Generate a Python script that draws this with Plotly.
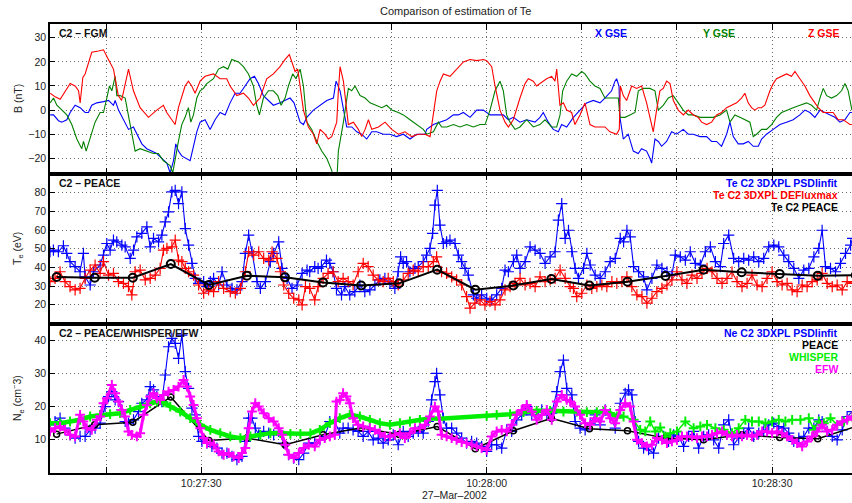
import pandas as pd
import plotly.graph_objects as go
from plotly.subplots import make_subplots

T0 = pd.Timestamp("2002-03-27 10:27:00")

# ---------------- axis ticks / labels ----------------
tick_sec = [20, 30, 40, 50, 60, 70, 80, 90]
tick_lab = ["", "10:27:30", "", "", "10:28:00", "", "", "10:28:30"]
x_range_sec = [14.1, 98.4]

# ---------------- Panel 1: FGM magnetic field (nT), seconds after 10:27:00 ----------------
bx_t = [14.12,14.47,14.99,15.34,15.87,16.22,16.74,17.27,17.79,18.14,18.49,19.02,19.72,20.25,20.77,20.95,21.3,21.82,22.35,22.87,
        23.22,23.75,24.27,24.8,25.32,25.85,26.38,26.73,27.08,27.32,27.6,27.95,28.48,28.83,29.18,29.53,29.88,30.4,30.93,31.45,
        31.98,32.51,33.03,33.56,34.08,34.61,35.13,35.59,36.01,36.53,37.06,37.58,38.28,38.81,39.33,39.75,40.03,40.39,40.74,41.09,
        41.79,42.49,43.19,43.89,44.17,44.59,44.94,45.29,45.82,46.34,46.86,47.39,47.92,48.44,49.14,49.84,50.54,51.24,51.94,52.64,53.52,
        53.7,54.4,55.1,55.8,56.5,57.02,57.55,58.25,58.95,59.65,60.35,61.05,61.75,62.28,62.8,63.5,64.2,65.08,65.6,65.95,
        66.48,67.0,67.53,67.88,68.41,69.11,69.81,70.51,71.21,71.91,72.43,73.13,73.49,73.66,73.91,74.01,74.36,74.88,75.41,75.93,
        76.28,76.81,77.16,77.34,77.69,78.04,78.39,78.91,79.44,79.96,80.66,81.19,81.72,82.42,83.12,83.64,84.17,84.69,85.22,85.57,
        85.92,86.44,86.97,87.5,88.02,88.55,88.9,89.42,90.12,90.82,91.52,92.22,92.92,93.45,93.97,94.5,95.03,95.55,96.07,96.6,
        97.13,97.65,98.18,98.39]
bx_v = [-2,-2,-4.4,-5,-4,-1,2,1,-1,-1,2,3,3.5,4,2,4,0,-4,-8,-7,
        -10,-14,-16,-17,-18,-20,-22,-26,-21,-14,-17,-19,-20,-21,-15,-9,-5,-4,-8,-4,
        -1,-2,3,7,7,10,13,14,11,6,4,2,3,4,5,3,-1,-5,-6,-3,
        0,2,4,5,12,8,0,-7,-7,-9,-10,-12,-9,-9,-10,-10,-11,-10,-12,-10,-10,
        -8,-6,-5,-4,-2,-2,-1,-3,0,0,-2,-2,-2,-4,-3,-5,-4,-5,-3,-1,
        -5,-8,-9,-6,-7,-3,0,3,4,3,5,8,12,13,10,-3,-12,-10,-17,-18,
        -16,-17,-20,-22,-12,-13,-15,-13,-9,-10,-8,-10,-10,-11,-11,-13,-13,-15,-10,-5,
        -11,-14,-14,-13,-15,-15,-12,-10,-8,-6,-5,-4,-2,0,-1,-3,0,-1,-2,-3,
        -5,-4,-1,-1]

by_t = [14.12,14.47,14.82,15.34,15.87,16.39,16.92,17.44,17.62,17.9,18.32,18.84,19.37,19.72,20.07,20.35,20.6,20.95,21.12,21.47,
        22.0,22.35,22.7,23.05,23.57,24.27,24.97,25.5,26.02,26.37,26.72,27.0,27.25,27.6,27.95,28.3,28.65,28.9,29.18,29.53,
        29.88,30.23,30.58,31.28,31.81,32.33,32.79,33.21,33.91,34.43,34.96,35.48,35.83,36.11,36.53,37.06,37.58,38.04,38.39,38.81,
        39.16,39.61,39.96,40.39,40.74,41.09,41.61,42.14,42.66,43.19,43.71,44.06,44.24,44.41,44.94,45.29,45.46,45.81,46.16,46.69,
        47.22,47.74,48.44,48.97,49.49,50.02,50.72,51.24,51.94,52.64,53.34,
        53.7,54.4,54.92,55.27,55.8,56.5,57.2,57.9,58.6,59.3,59.83,60.35,60.88,61.4,61.75,62.1,62.45,62.98,63.5,64.2,
        64.9,65.6,66.13,66.83,67.36,67.71,67.99,68.41,68.93,69.46,69.98,70.33,70.86,71.38,71.91,72.43,72.96,73.49,73.84,74.01,
        74.54,75.06,75.59,75.94,76.46,77.16,77.69,78.04,78.56,79.09,79.61,80.14,80.66,81.19,81.71,82.42,83.12,83.82,84.52,85.22,
        85.57,86.09,86.62,87.15,87.67,88.02,88.37,88.9,89.42,89.95,90.47,91.0,91.52,92.22,92.92,93.62,94.15,94.68,95.03,95.38,
        95.73,96.25,96.78,97.3,97.66,98.0,98.39]
by_v = [3,5,2,0,-2,-6,-12,-16,-13,-17,-12,-5,-1,-1,5,10,8,14,6,6,
        5,-2,-9,-17,-16,-17,-18,-18,-21,-22,-23,-26,-20,-13,-6,-3,1,-5,-2,5,
        8,9,11,13,17,18,17,21,20,18,15,10,2,-2,5,8,8,6,2,5,
        10,15,13,17,10,-5,-8,-13,-17,-20,-25,-32,-30,-17,-5,5,9,8,10,6,
        5,3,2,1,2,0,-1,-2,-4,-6,-8,
        -10,-9,-5,-7,-7,-6,-7,-6,-7,-6,-6,0,8,12,8,-2,-5,-8,-7,-4,
        -7,-6,-4,-7,-7,-2,8,12,15,14,16,15,12,10,9,5,5,5,5,-3,
        -3,-2,-1,8,9,9,8,0,2,5,6,3,0,-2,-2,-3,-3,-3,-2,0,
        -5,-2,-3,-4,-5,-11,-10,-8,-8,-6,-3,-1,0,1,2,3,2,0,5,9,
        6,5,6,8,11,8,0]

bz_t = [14.12,14.64,15.17,15.87,16.22,16.74,17.1,17.27,17.55,17.79,18.49,19.2,19.72,20.24,20.77,21.28,21.63,22.35,22.87,23.57,
        24.45,25.32,26.02,26.37,26.73,27.25,27.6,28.3,28.65,29.0,29.35,29.88,30.4,31.28,31.98,32.68,33.03,33.73,34.43,34.96,
        35.48,36.18,36.88,37.58,38.28,38.81,39.26,39.61,39.86,40.14,40.39,40.74,41.26,41.79,42.14,42.49,43.01,43.36,43.71,44.24,
        44.41,44.59,44.94,45.29,45.46,45.99,46.51,46.86,47.22,47.57,47.92,48.62,49.32,50.02,50.72,51.42,52.12,52.82,
        53.52,54.05,54.4,54.75,55.1,55.45,56.15,56.85,57.55,58.25,58.95,59.65,60.0,60.53,60.88,61.4,61.93,62.28,62.8,63.5,
        64.03,64.38,64.9,65.25,65.78,66.3,66.83,67.18,67.36,67.53,67.7,68.06,68.41,68.93,69.28,69.81,70.33,70.86,71.38,71.91,
        72.43,72.96,73.66,73.94,74.05,74.36,74.71,75.24,75.76,76.29,76.81,77.16,77.51,77.86,78.21,78.56,78.91,79.27,79.62,80.14,
        80.67,81.19,81.72,82.24,82.59,83.12,83.64,84.17,84.69,85.22,85.74,86.27,86.79,87.14,87.49,87.84,88.2,88.54,88.89,89.24,
        89.77,90.12,90.47,90.99,91.52,92.04,92.4,92.92,93.45,93.97,94.5,94.85,95.37,95.9,96.42,96.95,97.48,97.83,98.18,98.39]
bz_v = [7,5.5,4.5,9,11,10,8,3,13.5,15,24,24.5,25,21,17,6,4,17,8,1,
        -3,0,2,-1,-3,-6,1,10,12,10,7,12,14,15,13,13,10,6,7,5,
        2,5,13,15,18,21,23,19,16,17,10,0,-7,-10,-14,-8,-10,-12,-11,-5,
        8,18,12,0,-6,-5,-8,-11,-8,-4,-8,-7,-5,-8,-10,-9,-11,-10,
        -10,-11,-2,8,12,15,14,17,20,21,20.5,21,20.5,18,10,0,-5,-7,-4,5,
        11,13,12,10,11.5,13,14,12,17,10,2,3,0,-1,-6,-2,3,-6,-7,-7,
        -7,-9,-10,-8,10,6,4,10,9,10,3,-3,-9,0,8,9,12,11,4,0,
        -2,0,-2,-3,-5,-6,-5,-2,-1,1,2,3,5,7,3,1,0,1,1,2,
        8,11,13,14,15,14,16,13,10,6,3,1,-1,-1,-1,-4,-4,-5,-6,-6]

# ---------------- Panel 2: electron temperature (eV) ----------------
te_fit_t = [14.1,14.46,14.98,15.51,15.86,16.21,16.74,17.26,17.61,17.79,18.32,18.67,19.37,19.72,20.07,20.42,20.77,21.12,21.65,22.0,
            22.53,22.88,23.23,23.75,24.28,24.63,24.98,25.51,25.86,26.21,26.56,26.91,27.26,27.61,27.96,28.32,28.67,29.02,29.37,29.72,
            30.25,30.6,30.95,31.3,31.82,32.18,32.7,33.23,33.75,34.28,34.63,34.98,35.33,35.86,36.21,36.74,37.26,37.61,38.14,38.49,
            39.02,39.54,40.07,40.6,41.12,
            41.4,41.93,42.28,42.63,43.16,43.51,43.86,44.21,44.74,45.09,45.61,46.14,46.67,47.19,47.72,48.25,48.77,49.3,49.83,50.35,
            50.7,50.95,51.23,51.58,51.93,52.46,52.81,53.33,53.68,54.04,54.32,54.56,54.81,55.09,55.44,55.79,56.14,56.67,57.02,57.37,
            57.72,58.07,58.6,58.95,59.47,60.0,60.53,61.05,61.58,61.93,62.28,62.81,63.16,63.51,64.04,64.56,65.09,65.61,66.14,66.67,
            67.19,67.54,67.89,68.25,68.6,68.95,69.3,
            69.65,70.18,70.53,70.88,71.4,71.93,72.46,72.98,73.51,74.04,74.39,74.74,75.09,75.44,75.97,76.49,76.84,77.37,77.89,78.42,
            78.95,79.47,79.82,80.35,80.88,81.4,81.93,82.46,82.98,83.51,84.04,84.56,84.91,85.44,85.96,86.49,87.02,87.54,88.07,88.6,
            89.12,89.65,90.18,90.7,91.23,91.75,92.28,92.81,93.33,93.86,94.39,94.91,95.26,95.61,96.14,96.67,97.19,97.72,98.25,98.46]
te_fit_v = [48.4,49.3,48.4,51.6,47.5,43.1,40.4,37.7,47.5,35,30.6,37.7,41.3,46.6,52.8,49.3,54.6,53.7,51.9,51,
            44.8,49.3,56.4,58.2,61.7,51,55.5,53.7,57.3,64.4,69.7,80.4,81.2,74.1,80.4,60.8,51.9,42.2,34.2,31.5,
            32.4,29.7,32.4,34.2,30.6,37.7,30.6,28.8,28,32.4,47.5,57.3,48.4,32.4,28.8,32.4,43.1,47.5,53.7,39.5,
            34.2,28.8,30.6,36.8,38.6,
            37.7,40.4,39.5,40.4,43.9,42.2,37.7,28.8,25.3,29.7,25.3,27.1,30.6,27.1,28,30.6,33.3,34.2,31.5,28.8,
            37.7,45.7,42.2,43.1,37.7,39.5,40.4,43.1,46.6,50.2,58.2,73.3,81.2,62.6,52.8,53.7,54.6,52.8,46.6,43.1,
            39.5,35.9,25.3,23.5,25.3,23.5,22.6,25.3,28.8,38.6,37.7,43.1,46.6,39.5,43.1,51,49.3,47.5,42.2,45.7,
            48.4,65.3,74.1,55.5,59.9,48.4,39.5,
            34.2,39.5,47.5,41.3,35.9,34.2,37.7,43.1,44.8,55.5,53.7,59.9,56.4,40.4,37.7,35,28,34.2,41.3,39.5,
            37.7,35.9,46.6,45.7,43.9,48.4,42.2,41.3,48.4,51,43.1,40.4,52.8,57.3,44.8,43.1,44.8,43.9,45.7,43.1,
            44.8,51,51.9,51,46.6,43.1,39.5,34.2,38.6,39.5,45.7,50.2,59.9,40.4,39.5,37.7,42.2,47.5,51.9,55.5]

te_def_t = [14.1,14.63,15.16,15.68,16.21,16.74,17.26,17.79,18.32,18.84,19.37,19.72,20.25,20.77,21.3,21.82,22.35,22.7,23.05,23.58,
            24.11,24.63,25.16,25.68,26.03,26.39,26.91,27.26,27.61,27.96,28.32,28.67,29.19,29.72,30.25,30.77,31.3,31.82,32.35,33.05,
            33.58,34.11,34.63,34.98,35.51,36.04,36.56,37.09,37.44,37.96,38.32,38.67,39.19,39.72,40.25,40.6,40.95,
            41.4,41.93,42.28,42.81,43.33,43.86,44.39,44.91,45.44,45.96,46.49,47.02,47.54,48.07,48.6,49.12,49.65,50.18,50.7,51.23,
            51.75,52.28,52.81,53.33,53.86,54.39,54.74,55.26,55.79,56.32,56.84,57.37,57.89,58.25,58.77,59.3,59.82,60.35,60.88,61.4,
            61.93,62.46,62.98,63.51,64.04,64.56,65.09,65.61,66.14,66.67,67.19,67.72,68.25,68.77,
            69.12,69.47,70.0,70.53,71.05,71.58,72.11,72.63,73.16,73.68,74.21,74.74,75.26,75.79,76.32,76.84,77.37,77.89,78.42,78.95,
            79.47,80.0,80.53,81.05,81.58,82.11,82.63,83.16,83.68,84.21,84.74,85.26,85.79,86.32,86.84,87.37,87.89,88.42,88.95,89.47,
            90.0,90.53,91.05,91.58,92.11,92.63,93.16,93.68,94.21,94.74,95.26,95.79,96.32,96.84,97.37,97.89,98.46]
te_def_v = [32.4,34.2,37.7,32.4,29.7,28,28.8,34.2,38.6,41.3,36.8,43.1,35.9,36.8,32.4,31.5,29.7,25.3,37.7,38.6,
            33.3,34.2,35.9,39.5,49.3,50.2,51,54.6,43.9,43.1,39.5,37.7,35.9,30.6,26.2,28,27.1,32.4,28.8,27.1,
            26.2,28.8,37.7,48.4,46.6,48.4,44.8,43.9,48.4,44.8,37.7,30.6,26.2,23.5,22.6,20,29.7,
            28.8,22.6,29.7,34.2,36.8,37.7,32.4,34.2,32.4,30.6,37.7,42.2,40.4,35.9,33.3,32.4,34.2,32.4,30.6,33.3,
            36.8,38.6,37.7,40.4,40.4,43.1,45.7,37.7,36.8,35,33.3,30.6,24.4,18.2,20.9,22.6,20,21.8,20,22.6,
            28,29.7,31.5,34.2,30.6,31.5,29.7,35,32.4,33.3,34.2,38.6,34.2,29.7,
            28.8,24.4,26.2,30.6,28.8,29.7,30.6,29.7,32.4,31.5,32.4,35,29.7,25.3,24.4,20.9,23.5,27.1,28.8,30.6,
            33.3,37.7,33.3,31.5,35.9,34.2,36.8,39.5,37.7,34.2,31.5,34.2,37.7,32.4,29.7,31.5,35.9,30.6,29.7,34.2,
            37.7,32.4,30.6,31.5,28,27.1,30.6,29.7,32.4,33.3,36.8,31.5,29.7,30.6,28,32.4,31.5]

peace_t = [14.8,18.8,22.8,26.8,30.8,34.8,38.8,42.8,46.8,50.8,54.8,58.8,62.8,66.8,70.8,74.8,78.8,82.8,86.8,90.8,94.8,98.8]
te_peace_v = [34.9,34.5,34.5,41.8,30.6,35.6,34.7,32.0,30.3,31.5,38.8,28.1,30.3,33.8,30.3,32.4,35.4,38.8,37.4,36.5,35.6,35.8]

# ---------------- Panel 3: electron density (cm^-3) ----------------
ne_fit_t = [14.1,14.63,15.16,15.68,16.21,16.74,17.26,17.79,18.32,18.84,19.37,19.89,20.25,20.6,20.95,21.3,21.65,22.0,22.35,22.88,
            23.4,23.75,24.28,24.63,24.98,25.33,25.86,26.21,26.56,26.91,27.26,27.61,27.96,28.32,28.67,29.02,29.37,29.72,30.07,30.6,
            31.12,31.65,32.18,32.7,33.23,33.75,34.28,34.63,34.98,35.33,35.68,36.04,36.56,37.09,37.61,38.14,38.67,39.19,39.72,40.25,
            40.77,41.3,
            41.93,42.46,42.98,43.51,44.04,44.56,44.91,45.44,45.96,46.49,47.02,47.54,48.07,48.6,49.12,49.65,50.18,50.7,51.23,51.75,
            52.28,52.81,53.33,53.86,54.21,54.56,54.74,55.09,55.44,55.79,56.32,56.84,57.37,57.89,58.42,58.95,59.47,60.0,60.53,61.05,
            61.58,62.11,62.63,63.16,63.68,64.21,64.74,65.26,65.79,66.32,66.84,67.37,67.72,68.07,68.42,68.95,
            69.3,69.82,70.35,70.88,71.4,71.93,72.46,72.98,73.51,74.04,74.56,74.91,75.26,75.61,75.97,76.49,77.02,77.54,78.07,78.6,
            79.12,79.65,80.18,80.7,81.23,81.75,82.28,82.81,83.33,83.86,84.39,84.91,85.44,85.96,86.49,87.02,87.54,88.07,88.6,89.12,
            89.65,90.18,90.7,91.23,91.75,92.28,92.81,93.33,93.86,94.39,94.91,95.26,95.79,96.32,96.84,97.37,97.89,98.46]
ne_fit_v = [14.5,15.5,16.5,13.5,11.5,10.5,11,11,13,13.5,15,20,23,24.5,22,21.5,19,15.5,15,16,
            18.5,21,22,26,25,23,21.5,29.5,38,40.5,39,34.5,41.5,30.5,25.5,19.5,17.5,11,9.5,9,
            8,7.5,6,6,5,4,5,9.5,16.5,16.5,13.5,11.5,12.5,12,11.5,12.5,9,5.5,4.5,4,
            6,9,
            9,10,11,15.5,15.5,12,13.5,13.5,13,12.5,11,12.5,10,10.5,9,10,11.5,8.5,12.5,11,
            12,12.5,12,15.5,22,27.5,30,23.5,16.5,13.5,13.5,12,10.5,9,9.5,9,8,6.5,8.5,8.5,
            7.5,13,12.5,16,17.5,20,17.5,17.5,19,17.5,18,24.5,30.5,34,25.5,23.5,
            15.5,13.5,13,15,17.5,14.5,19,17.5,13.5,21,24,25,23.5,15.5,9.5,7.5,7,6,10.5,11,
            9.5,11.5,11,8,11,12.5,7.5,11,11.5,10,7.5,14.5,16,8.5,10.5,12,13.5,11,12,12.5,
            14.5,15,14,13.5,12,9.5,10.5,11,13.5,13.5,16,15.5,12.5,11,10,13,17,18.5]

ne_peace_v = [11.7,14.5,15.3,22.9,9.8,10.5,8.5,11.5,13.6,11.6,14.0,7.3,12.7,16.5,13.3,12.7,10.5,10.0,11.5,10.7,10.3,14.0]

whisper_t = [14.1,15.16,16.21,17.26,18.32,19.37,20.42,21.47,22.53,23.58,24.63,25.33,26.03,26.74,27.79,28.84,29.89,30.95,32.0,33.05,
             34.11,35.16,36.21,37.26,38.32,39.37,40.42,41.47,42.46,43.51,44.56,45.61,46.67,47.72,48.77,49.83,50.88,51.93,52.98,54.04,
             55.09,60.0,61.05,62.46,63.86,65.26,66.67,68.07,69.47,70.53,71.58,72.28,72.98,73.68,74.39,75.44,76.14,76.67,77.19,77.72,
             78.25,78.77,79.3,80.0,80.88,81.75,82.46,83.16,84.04,84.91,85.79,86.49,87.19,87.89,88.6,89.3,90.0,90.7,91.4,92.11,
             92.98,93.86,94.39,94.91,95.44,96.14,96.84,97.54,98.46]
whisper_v = [15,15,15.5,16,17,17.5,17.7,18,19,20,21,21.5,21.3,20,18.5,16.5,14.5,13,12,11,
             10.5,11,11.5,12,12,11.8,11.8,11.9,13,15,16.5,17.5,17,16,15,14.5,15,15.5,16,16.5,
             16.3,17.2,17.5,17.7,18.3,18.7,18.7,18.5,18.5,18.3,18.3,18.5,18,17,17,16,13,12.5,15.5,12.5,
             13.7,11,12,12.5,15.5,13.5,14,14.5,13.5,13,12,13.5,16,15.5,15.5,15,15.5,16,15.5,16,
             16,16.5,13,15.5,15,16.5,14.5,15.5,17]

efw_t = [14.1,14.63,15.16,15.68,16.21,16.74,17.26,17.61,17.96,18.49,19.02,19.37,19.72,20.07,20.6,20.95,21.3,21.65,22.0,22.35,
         22.7,23.23,23.58,23.93,24.28,24.63,24.98,25.33,25.68,26.03,26.56,27.09,27.61,28.14,28.49,28.84,29.19,29.54,29.89,30.25,
         30.6,30.95,31.3,31.82,32.35,32.88,33.4,33.93,34.28,34.63,34.98,35.33,35.68,36.04,36.56,37.09,37.61,38.14,38.49,38.84,
         39.19,39.72,40.25,40.77,41.3,
         41.93,42.46,42.98,43.51,44.04,44.21,44.56,44.91,45.26,45.61,45.96,46.49,47.02,47.72,48.25,48.77,49.3,49.83,50.35,50.88,
         51.4,51.93,52.46,52.98,53.51,54.04,54.56,54.91,55.26,55.79,56.32,56.84,57.37,57.89,58.42,58.95,59.47,60.0,60.53,61.05,
         61.58,62.11,62.63,63.16,63.68,64.21,64.74,65.26,65.79,66.32,66.84,67.37,67.89,68.42,
         68.77,69.3,69.82,70.35,70.88,71.4,71.93,72.46,72.98,73.51,74.04,74.56,75.09,75.44,75.79,76.32,76.84,77.37,77.89,78.42,
         78.95,79.47,80.0,80.53,81.05,81.58,82.11,82.63,83.16,83.68,84.21,84.74,85.26,85.79,86.32,86.84,87.37,87.89,88.42,88.95,
         89.47,90.0,90.53,91.05,91.58,92.11,92.63,93.16,93.68,94.21,94.74,95.26,95.79,96.32,96.84,97.37,97.89,98.46]
efw_v = [12.5,13.5,14,13,11.5,11,17.5,15.5,13.5,13,16,17,21,22.5,26.5,24,21.5,19,17,12.5,
         11.5,11,12,17.5,20.5,23,24,22.5,22,23.5,24.5,25,26,28,26,23,20.5,16.5,13.5,10.5,
         9,9,8.5,6.5,5.5,6,5,4.5,6,7.5,13.5,18.5,21,20,18,16.5,15.5,13.5,11.5,8.5,
         5.5,4.5,6,7.5,8.5,
         8,10,10.5,11,11.5,21.5,22,24,23,21,16.5,14.5,14,13.5,13,12,11,11,11.5,12,
         10.5,12,13.5,13.5,14.5,17,20,18.5,11.5,11,10.5,10,9.3,9,8.5,8,7.5,7,11,12.5,
         13,12.5,14.5,17.5,19,20.5,18.5,16,17.5,19,16,21.5,23.5,22,
         21.5,20,17.5,15,14.5,16.5,15.5,19,16.5,15,19,21,20,15.5,10,9,8,8.5,10.5,10,
         9,9.5,10,11,11,11,10.5,11,11,11.5,12,12.5,11.5,11,11.5,11,11.5,11,11.5,12.5,
         12.5,12,12.5,12,11,10,9,8,9.5,11,12.5,14.5,12.5,13,14.5,15.5,16,17]

for name, a, b in [("bx", bx_t, bx_v), ("by", by_t, by_v), ("bz", bz_t, bz_v),
                   ("te_fit", te_fit_t, te_fit_v), ("te_def", te_def_t, te_def_v),
                   ("te_peace", peace_t, te_peace_v), ("ne_fit", ne_fit_t, ne_fit_v),
                   ("ne_peace", peace_t, ne_peace_v), ("whisper", whisper_t, whisper_v),
                   ("efw", efw_t, efw_v)]:
    assert len(a) == len(b), (name, len(a), len(b))


def tt(secs):
    return [T0 + pd.Timedelta(seconds=s) for s in secs]


# ---------------- figure ----------------
W, H = 852, 503
ML, MR, MT, MB = 50, 0, 24, 30
PW, PH = W - ML - MR, H - MT - MB


def px(X):
    return (X - ML) / PW


def py(Y):
    return (H - MB - Y) / PH


FONT = "Liberation Sans, Arial, Helvetica, sans-serif"
BLUE, RED, DGREEN, LGREEN, MAG = "#0000ff", "#ff0000", "#008000", "#00ee00", "#ff00ff"
GRID = "#6a6a6a"
GDASH = "1px,3px"

fig = make_subplots(rows=3, cols=1, shared_xaxes=True, vertical_spacing=0)

# Panel 1
fig.add_trace(go.Scatter(x=tt(bx_t), y=bx_v, mode="lines", line=dict(color=BLUE, width=1.1)), 1, 1)
fig.add_trace(go.Scatter(x=tt(by_t), y=by_v, mode="lines", line=dict(color=DGREEN, width=1.1)), 1, 1)
fig.add_trace(go.Scatter(x=tt(bz_t), y=bz_v, mode="lines", line=dict(color=RED, width=1.1)), 1, 1)


def plus(color, size=8, w=1.2):
    return dict(symbol="cross-thin", size=size, color=color, line=dict(color=color, width=w))


# Panel 2
fig.add_trace(go.Scatter(x=tt(te_fit_t), y=te_fit_v, mode="lines+markers",
                         line=dict(color=BLUE, width=1.1), marker=plus(BLUE)), 2, 1)
fig.add_trace(go.Scatter(x=tt(te_def_t), y=te_def_v, mode="lines+markers",
                         line=dict(color=RED, width=1.1), marker=plus(RED)), 2, 1)
fig.add_trace(go.Scatter(x=tt(peace_t), y=te_peace_v, mode="lines+markers",
                         line=dict(color="black", width=2),
                         marker=dict(symbol="circle-open", size=8, color="black",
                                     line=dict(color="black", width=2))), 2, 1)

# Panel 3
fig.add_trace(go.Scatter(x=tt(ne_fit_t), y=ne_fit_v, mode="lines+markers",
                         line=dict(color=BLUE, width=1.1), marker=plus(BLUE)), 3, 1)
fig.add_trace(go.Scatter(x=tt(peace_t), y=ne_peace_v, mode="lines+markers",
                         line=dict(color="black", width=1.5),
                         marker=dict(symbol="circle-open", size=6, color="black",
                                     line=dict(color="black", width=1.5))), 3, 1)
fig.add_trace(go.Scatter(x=tt(whisper_t), y=whisper_v, mode="lines+markers",
                         line=dict(color=LGREEN, width=1.5), marker=plus(LGREEN, 7, 2)), 3, 1)
# dense high-rate WHISPER intervals drawn as a thick band
whisper_dense = [v if (t <= 55.1 or 60.0 <= t <= 74.4) else None for t, v in zip(whisper_t, whisper_v)]
fig.add_trace(go.Scatter(x=tt(whisper_t), y=whisper_dense, mode="lines",
                         line=dict(color=LGREEN, width=4.5)), 3, 1)
fig.add_trace(go.Scatter(x=tt(efw_t), y=efw_v, mode="lines+markers",
                         line=dict(color=MAG, width=3), marker=plus(MAG, 7, 2)), 3, 1)

# ---------------- axes ----------------
xr = tt(x_range_sec)
tv = tt(tick_sec)
domains = [[py(174), 1.0], [py(323.5), py(174)], [0.0, py(323.5)]]
yranges = [[-26.5, 35.7], [10, 90], [0, 45]]
yticks = [[-20, -10, 0, 10, 20, 30], [20, 30, 40, 50, 60, 70, 80], [10, 20, 30, 40]]

for i in range(3):
    xa = "xaxis" if i == 0 else f"xaxis{i+1}"
    ya = "yaxis" if i == 0 else f"yaxis{i+1}"
    fig.layout[xa].update(
        type="date", range=xr, tickmode="array", tickvals=tv, ticktext=tick_lab,
        showticklabels=(i == 2), ticks="inside", ticklen=6, tickwidth=1, tickcolor="black",
        showline=True, linecolor="black", linewidth=1.5, mirror="allticks",
        showgrid=True, gridcolor=GRID, griddash=GDASH, gridwidth=1, zeroline=False,
        tickfont=dict(family=FONT, size=10.5, color="#222"),
    )
    fig.layout[ya].update(
        domain=domains[i], range=yranges[i], tickmode="array", tickvals=yticks[i],
        ticks="inside", ticklen=5, tickcolor="black", showline=True, linecolor="black",
        linewidth=1.5, mirror=False, showgrid=True, gridcolor=GRID, griddash=GDASH,
        gridwidth=1, zeroline=False, tickfont=dict(family=FONT, size=10.5, color="#222"),
    )

# ---------------- texts ----------------
ann = []


def add(text, X, Y, color="black", size=10.5, xanchor="center", angle=0):
    ann.append(dict(text=text, x=px(X), y=py(Y), xref="paper", yref="paper", showarrow=False,
                    xanchor=xanchor, yanchor="middle", textangle=angle,
                    font=dict(family=FONT, size=size, color=color)))


add("Comparison of estimation of Te", 455, 11, "#222", size=11)
add("27–Mar–2002", 454, 495, "#222")
add("B (nT)", 18, 99, "#222", angle=-90)
add("T<sub>e</sub> (eV)", 18, 249, "#222", angle=-90)
add("N<sub>e</sub> (cm<sup>−</sup>3)", 18, 398, "#222", angle=-90)

add("<b>C2 – FGM</b>", 57, 33, "#111", xanchor="left")
add("<b>X GSE</b>", 611, 33, BLUE)
add("<b>Y GSE</b>", 719, 33, DGREEN)
add("<b>Z GSE</b>", 824, 33, RED)

add("<b>C2 – PEACE</b>", 57, 183, "#111", xanchor="left")
add("<b>Te C2 3DXPL PSDlinfit</b>", 840, 183, BLUE, xanchor="right")
add("<b>Te C2 3DXPL DEFluxmax</b>", 840, 195, RED, xanchor="right")
add("<b>Te C2 PEACE</b>", 840, 207, "black", xanchor="right")

add("<b>C2 – PEACE/WHISPER/EFW</b>", 57, 333, "#111", xanchor="left")
add("<b>Ne C2 3DXPL PSDlinfit</b>", 840, 333, BLUE, xanchor="right")
add("<b>PEACE</b>", 840, 345, "black", xanchor="right")
add("<b>WHISPER</b>", 840, 357, LGREEN, xanchor="right")
add("<b>EFW</b>", 840, 369, MAG, xanchor="right")

fig.update_layout(
    width=W, height=H, margin=dict(l=ML, r=MR, t=MT, b=MB),
    paper_bgcolor="white", plot_bgcolor="white", showlegend=False,
    font=dict(family=FONT, size=10.5, color="#222"), annotations=ann,
)

fig.write_html("out.html", config={"displayModeBar": False},
               post_script="document.body.style.margin='0';document.body.style.overflow='hidden';")
